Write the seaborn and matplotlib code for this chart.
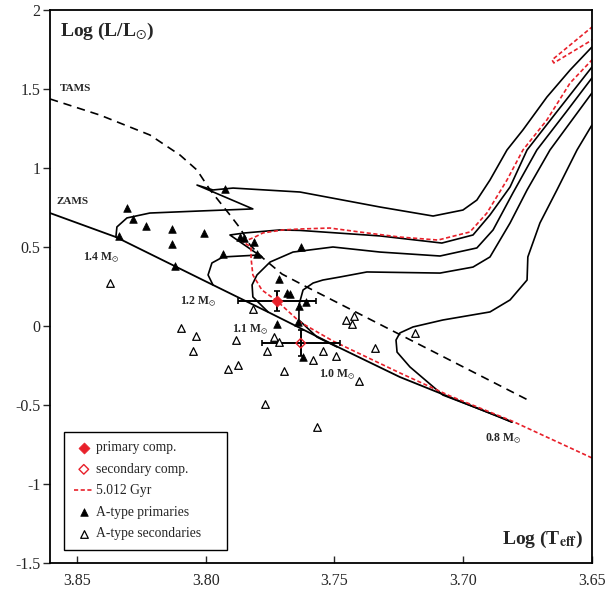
import matplotlib
matplotlib.use("Agg")
import matplotlib.pyplot as plt
import seaborn as sns

sns.set_style("ticks")
plt.rcParams['font.family'] = ['Liberation Serif', 'DejaVu Serif']
plt.rcParams['mathtext.fontset'] = 'stix'

# values: log Teff, log L/Lsun
zams_t = [3.8605, 3.8349, 3.8011, 3.7750, 3.7479, 3.7246, 3.6811]
zams_l = [0.715, 0.563, 0.291, 0.082, -0.139, -0.323, -0.608]

tams_t = [3.8605, 3.8411, 3.8217, 3.8100, 3.8034, 3.7983, 3.7906, 3.7867,
          3.7828, 3.7778, 3.7704, 3.7615, 3.6749]
tams_l = [1.437, 1.335, 1.209, 1.082, 0.987, 0.861, 0.703, 0.620,
          0.513, 0.430, 0.329, 0.253, -0.468]

m14_t = [3.8349, 3.8345, 3.8306, 3.8217, 3.8022, 3.7817, 3.8034, 3.7972, 3.7894, 3.7634,
         3.7323, 3.7117, 3.7001, 3.6947, 3.6896, 3.6830, 3.6768, 3.6675, 3.6585, 3.6500]
m14_l = [0.563, 0.627, 0.684, 0.715, 0.728, 0.741, 0.892, 0.861, 0.873, 0.848,
         0.753, 0.696, 0.734, 0.797, 0.924, 1.114, 1.241, 1.449, 1.620, 1.766]

m12_t = [3.7972, 3.7991, 3.7976, 3.7933, 3.7797, 3.7782, 3.7906, 3.7848, 3.7712, 3.7634,
         3.7323, 3.7083, 3.6962, 3.6896, 3.6818, 3.6752, 3.6644, 3.6500]
m12_l = [0.260, 0.323, 0.399, 0.437, 0.449, 0.437, 0.576, 0.589, 0.608, 0.605,
         0.570, 0.525, 0.576, 0.703, 0.880, 1.114, 1.340, 1.639]

m11_t = [3.7758, 3.7817, 3.7820, 3.7801, 3.7750, 3.7661, 3.7506, 3.7323, 3.7090,
         3.6947, 3.6884, 3.6807, 3.6714, 3.6600, 3.6500]
m11_l = [0.089, 0.184, 0.260, 0.323, 0.405, 0.468, 0.500, 0.468, 0.443,
         0.494, 0.608, 0.842, 1.114, 1.355, 1.570]

m10_t = [3.7490, 3.7568, 3.7638, 3.7638, 3.7622, 3.7583, 3.7545, 3.7479, 3.7374, 3.7090,
         3.6962, 3.6896, 3.6818, 3.6752, 3.6663, 3.6500]
m10_l = [-0.133, -0.070, 0.038, 0.133, 0.228, 0.272, 0.291, 0.310, 0.342, 0.335,
         0.373, 0.437, 0.652, 0.861, 1.114, 1.475]

m08_t = [3.6811, 3.6857, 3.7079, 3.7207, 3.7257, 3.7261, 3.7246, 3.7195, 3.7079,
         3.6896, 3.6818, 3.6752, 3.6749, 3.6702, 3.6636, 3.6558, 3.6500]
m08_l = [-0.608, -0.576, -0.437, -0.259, -0.165, -0.089, -0.044, -0.006, 0.038,
         0.089, 0.165, 0.291, 0.437, 0.652, 0.861, 1.114, 1.272]

iso_t = [3.6500, 3.6811, 3.7051, 3.7246, 3.7506, 3.7634, 3.7723, 3.7782, 3.7817, 3.7824,
         3.7824, 3.7855, 3.7809, 3.7778, 3.7700, 3.7634, 3.7518, 3.7374, 3.7246, 3.7098,
         3.6974, 3.6908, 3.6830, 3.6768, 3.6675, 3.6585, 3.6500, 3.6450, 3.6460, 3.6500,
         3.6648, 3.6655, 3.6500, 3.6450]
iso_l = [-0.835, -0.601, -0.443, -0.297, -0.095, 0.025, 0.158, 0.228, 0.323, 0.430,
         0.500, 0.532, 0.563, 0.589, 0.608, 0.614, 0.620, 0.589, 0.563, 0.544,
         0.595, 0.715, 0.924, 1.114, 1.304, 1.538, 1.684, 1.778, 1.835, 1.810,
         1.665, 1.684, 1.892, 1.949]

prim_t, prim_l, prim_et, prim_el = 3.7723, 0.158, 0.0153, 0.063
sec_t, sec_l, sec_et, sec_el = 3.7631, -0.109, 0.0151, 0.082

atype_prim_t = [3.8306, 3.8283, 3.8232, 3.8131, 3.8131, 3.8007, 3.8337, 3.8119, 3.7933,
                3.7925, 3.7867, 3.7851, 3.7813, 3.7801, 3.7630, 3.7716, 3.7684, 3.7673,
                3.7611, 3.7638, 3.7723, 3.7642, 3.7622]
atype_prim_l = [0.747, 0.677, 0.633, 0.614, 0.519, 0.589, 0.570, 0.380, 0.456,
                0.867, 0.563, 0.557, 0.532, 0.456, 0.500, 0.297, 0.209, 0.203,
                0.152, 0.127, 0.013, 0.025, -0.196]

atype_sec_t = [3.8372, 3.8096, 3.8038, 3.8050, 3.7817, 3.7883, 3.7762, 3.7735, 3.7716,
               3.7914, 3.7875, 3.7696, 3.7770, 3.7455, 3.7432, 3.7424, 3.7187, 3.7343,
               3.7545, 3.7494, 3.7583, 3.7405, 3.7568]
atype_sec_l = [0.272, -0.013, -0.063, -0.158, 0.108, -0.089, -0.158, -0.070, -0.101,
               -0.272, -0.247, -0.285, -0.494, 0.038, 0.013, 0.063, -0.044, -0.139,
               -0.158, -0.190, -0.215, -0.348, -0.639]

mass_labels = ['1.4', '1.2', '1.1', '1.0', '0.8']
mass_label_t = [3.8477, 3.8100, 3.7898, 3.7560, 3.6916]
mass_label_l = [0.430, 0.152, -0.025, -0.310, -0.715]

xticks = [3.85, 3.80, 3.75, 3.70, 3.65]
xtick_labels = ['3.85', '3.80', '3.75', '3.70', '3.65']
yticks = [-1.5, -1, -0.5, 0, 0.5, 1, 1.5, 2]
ytick_labels = ['-1.5', '-1', '-0.5', '0', '0.5', '1', '1.5', '2']

fig = plt.figure(figsize=(6.08, 5.92), dpi=100)
ax = fig.add_axes([0.0822, 0.049, 0.8914, 0.9341])

def line(t, l, **kw):
    sns.lineplot(x=t, y=l, sort=False, estimator=None, ax=ax, **kw)

line(zams_t, zams_l, color='black', lw=1.3)
line(tams_t, tams_l, color='black', lw=1.2, dashes=(5, 3.5))
for t, l in [(m14_t, m14_l), (m12_t, m12_l), (m11_t, m11_l), (m10_t, m10_l), (m08_t, m08_l)]:
    line(t, l, color='black', lw=1.2)
line(iso_t, iso_l, color='#e8202a', lw=1.2, dashes=(2.5, 1.5), label='5.012 Gyr')

ax.errorbar([prim_t], [prim_l], xerr=[prim_et], yerr=[prim_el], fmt='none',
            ecolor='black', elinewidth=1.4, capsize=2.5, capthick=1.2, zorder=4)
ax.errorbar([sec_t], [sec_l], xerr=[sec_et], yerr=[sec_el], fmt='none',
            ecolor='black', elinewidth=1.4, capsize=2.5, capthick=1.2, zorder=4)

sns.scatterplot(x=atype_prim_t, y=atype_prim_l, marker='^', s=30, color='black',
                edgecolor='black', linewidth=0.5, label='A-type primaries', ax=ax, zorder=5)
sns.scatterplot(x=atype_sec_t, y=atype_sec_l, marker='^', s=30, facecolor='white',
                edgecolor='black', linewidth=0.9, label='A-type secondaries', ax=ax, zorder=5)
sns.scatterplot(x=[prim_t], y=[prim_l], marker='D', s=32, color='#e8202a',
                edgecolor='#e8202a', label='primary comp.', ax=ax, zorder=6)
sns.scatterplot(x=[sec_t], y=[sec_l], marker='D', s=24, facecolor='none',
                edgecolor='#e8202a', linewidth=1.0, label='secondary comp.', ax=ax, zorder=6)

for name, t, l in zip(mass_labels, mass_label_t, mass_label_l):
    ax.text(t, l, name + r' M$_{\odot}$', fontsize=8.5, fontweight='bold', va='center')
ax.text(3.8566, 1.506, 'TAMS', fontsize=8, fontweight='bold', va='center')
ax.text(3.8578, 0.785, 'ZAMS', fontsize=8, fontweight='bold', va='center')

ax.text(0.018, 0.962, r'Log (L/L$_{\odot}$)', transform=ax.transAxes, fontsize=14,
        fontweight='bold', va='center', ha='left')
ax.text(0.983, 0.042, r'Log (T$_{\mathbf{eff}}$)', transform=ax.transAxes, fontsize=14,
        fontweight='bold', va='center', ha='right')

ax.set_xlim(3.8605, 3.65)
ax.set_ylim(-1.5, 2)
ax.set_xticks(xticks)
ax.set_xticklabels(xtick_labels)
ax.set_yticks(yticks)
ax.set_yticklabels(ytick_labels)
ax.set_xlabel('')
ax.set_ylabel('')
ax.tick_params(axis='x', direction='in', length=5, width=1, labelsize=11.5, pad=7)
ax.tick_params(axis='y', direction='out', length=5, width=1, labelsize=11.5, pad=2)
for sp in ax.spines.values():
    sp.set_linewidth(1.3)
    sp.set_color('black')

handles, labels = ax.get_legend_handles_labels()
lookup = dict(zip(labels, handles))
order = ['primary comp.', 'secondary comp.', '5.012 Gyr', 'A-type primaries', 'A-type secondaries']
leg = ax.legend([lookup[k] for k in order], order, loc='upper left', mode='expand',
                bbox_to_anchor=(0.026, 0.0, 0.301, 0.237), fontsize=9.8, frameon=True,
                fancybox=False, edgecolor='black', framealpha=1, handlelength=1.5,
                handletextpad=0.15, labelspacing=0.62, borderpad=0.7, borderaxespad=0)
leg.get_frame().set_linewidth(1.0)

fig.savefig('out.png', dpi=100)
